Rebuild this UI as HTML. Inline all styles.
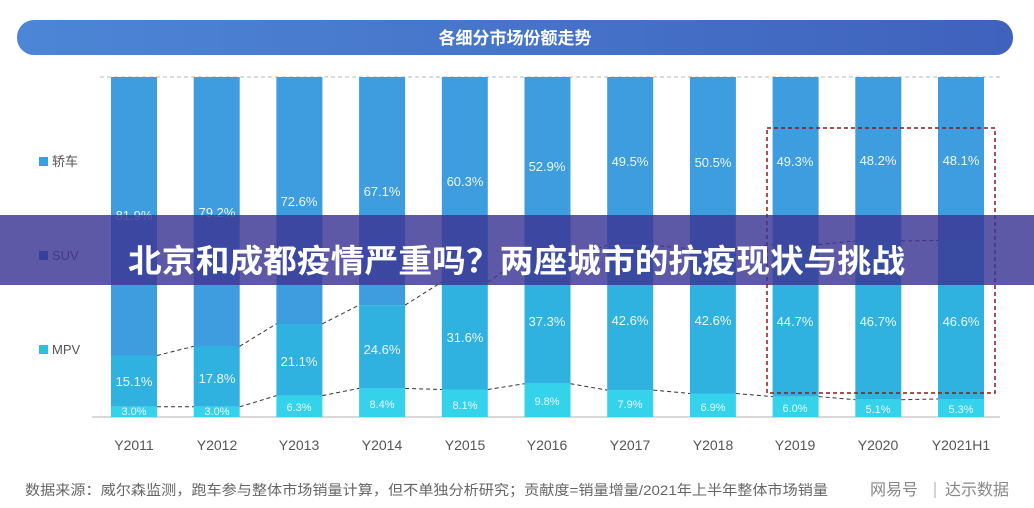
<!DOCTYPE html>
<html><head><meta charset="utf-8"><style>
body{margin:0;width:1034px;height:508px;overflow:hidden;background:#fff;font-family:"Liberation Sans","Noto Sans CJK SC",sans-serif}
</style></head><body>
<svg width="1034" height="508" xmlns="http://www.w3.org/2000/svg" style="position:absolute;left:0;top:0">
<defs><linearGradient id="hg" x1="0" x2="1"><stop offset="0" stop-color="#4d86d6"/><stop offset="1" stop-color="#3f62bd"/></linearGradient></defs>
<rect x="17" y="20" width="996" height="35" rx="17" fill="url(#hg)"/>
<text x="515" y="44" fill="#fff" font-size="17" font-weight="bold" text-anchor="middle" font-family="Liberation Sans,Noto Sans CJK SC,sans-serif">各细分市场份额走势</text>
<line x1="100" y1="77" x2="1000" y2="77" stroke="#bbb" stroke-dasharray="4,3"/>
<line x1="92" y1="417" x2="1000" y2="417" stroke="#ccc" stroke-width="1.5"/>
<g fill="#3d9ddf">
<rect x="111" y="77" width="46" height="279"/><rect x="193.7" y="77" width="46" height="270"/><rect x="276.4" y="77" width="46" height="247"/><rect x="359.1" y="77" width="46" height="228"/><rect x="441.8" y="77" width="46" height="205"/><rect x="524.5" y="77" width="46" height="180"/><rect x="607.2" y="77" width="46" height="168"/><rect x="689.9" y="77" width="46" height="172"/><rect x="772.6" y="77" width="46" height="168"/><rect x="855.3" y="77" width="46" height="164"/><rect x="938" y="77" width="46" height="164"/>
</g>
<g fill="#30b2e0">
<rect x="111" y="355.5" width="46" height="51.3"/><rect x="193.7" y="346.3" width="46" height="60.5"/><rect x="276.4" y="323.8" width="46" height="71.8"/><rect x="359.1" y="305.1" width="46" height="83.3"/><rect x="441.8" y="282" width="46" height="107.5"/><rect x="524.5" y="256.9" width="46" height="126.8"/><rect x="607.2" y="245.3" width="46" height="144.8"/><rect x="689.9" y="248.7" width="46" height="144.8"/><rect x="772.6" y="244.6" width="46" height="152"/><rect x="855.3" y="240.9" width="46" height="158.8"/><rect x="938" y="240.5" width="46" height="158.5"/>
</g>
<g fill="#35d2ec">
<rect x="111" y="406.8" width="46" height="10.2"/><rect x="193.7" y="406.8" width="46" height="10.2"/><rect x="276.4" y="395.6" width="46" height="21.4"/><rect x="359.1" y="388.4" width="46" height="28.6"/><rect x="441.8" y="389.5" width="46" height="27.5"/><rect x="524.5" y="383.7" width="46" height="33.3"/><rect x="607.2" y="390.1" width="46" height="26.9"/><rect x="689.9" y="393.5" width="46" height="23.5"/><rect x="772.6" y="396.6" width="46" height="20.4"/><rect x="855.3" y="399.7" width="46" height="17.3"/><rect x="938" y="399" width="46" height="18"/>
</g>
<g stroke="#333" stroke-dasharray="4,3" fill="none">
<polyline points="157,355.5 193.7,346.3"/><polyline points="239.7,346.3 276.4,323.8"/><polyline points="322.4,323.8 359.1,305.1"/><polyline points="405.1,305.1 441.8,282"/><polyline points="487.8,282 524.5,256.9"/><polyline points="570.5,256.9 607.2,245.3"/><polyline points="653.2,245.3 689.9,248.7"/><polyline points="735.9,248.7 772.6,244.6"/><polyline points="818.6,244.6 855.3,240.9"/><polyline points="901.3,240.9 938,240.5"/>
<polyline points="157,406.8 193.7,406.8"/><polyline points="239.7,406.8 276.4,395.6"/><polyline points="322.4,395.6 359.1,388.4"/><polyline points="405.1,388.4 441.8,389.5"/><polyline points="487.8,389.5 524.5,383.7"/><polyline points="570.5,383.7 607.2,390.1"/><polyline points="653.2,390.1 689.9,393.5"/><polyline points="735.9,393.5 772.6,396.6"/><polyline points="818.6,396.6 855.3,399.7"/><polyline points="901.3,399.7 938,399"/>
</g>
<rect x="767" y="128" width="228" height="265" fill="none" stroke="#8b1a1a" stroke-width="1.5" stroke-dasharray="4,3"/>
<g fill="#eaf8ff" font-size="13" text-anchor="middle">
<text x="134" y="220">81.9%</text><text x="217" y="217">79.2%</text><text x="299" y="206">72.6%</text><text x="382" y="196">67.1%</text><text x="465" y="186">60.3%</text><text x="547" y="171">52.9%</text><text x="630" y="166">49.5%</text><text x="713" y="167">50.5%</text><text x="795" y="166">49.3%</text><text x="878" y="165">48.2%</text><text x="961" y="165">48.1%</text>
<text x="134" y="386">15.1%</text><text x="217" y="383">17.8%</text><text x="299" y="366">21.1%</text><text x="382" y="354">24.6%</text><text x="465" y="342">31.6%</text><text x="547" y="326">37.3%</text><text x="630" y="325">42.6%</text><text x="713" y="325">42.6%</text><text x="795" y="326">44.7%</text><text x="878" y="326">46.7%</text><text x="961" y="326">46.6%</text>
<g font-size="11"><text x="134" y="415">3.0%</text><text x="217" y="415">3.0%</text><text x="299" y="411">6.3%</text><text x="382" y="408">8.4%</text><text x="465" y="409">8.1%</text><text x="547" y="405">9.8%</text><text x="630" y="408">7.9%</text><text x="713" y="411">6.9%</text><text x="795" y="412">6.0%</text><text x="878" y="413">5.1%</text><text x="961" y="413">5.3%</text></g>
</g>
<g fill="#555" font-size="14" text-anchor="middle">
<text x="134" y="450">Y2011</text><text x="217" y="450">Y2012</text><text x="299" y="450">Y2013</text><text x="382" y="450">Y2014</text><text x="465" y="450">Y2015</text><text x="547" y="450">Y2016</text><text x="630" y="450">Y2017</text><text x="713" y="450">Y2018</text><text x="795" y="450">Y2019</text><text x="878" y="450">Y2020</text><text x="961" y="450">Y2021H1</text>
</g>
<rect x="39" y="157" width="9" height="9" fill="#3d9ddf"/><text x="52" y="166" font-size="13" fill="#555">轿车</text>
<rect x="39" y="251" width="9" height="9" fill="#2a78c8"/><text x="52" y="260" font-size="13" fill="#555">SUV</text>
<rect x="39" y="345" width="9" height="9" fill="#30bfd8"/><text x="52" y="354" font-size="13" fill="#555">MPV</text>
<text x="25" y="495" font-size="14" fill="#666" textLength="803" lengthAdjust="spacingAndGlyphs">数据来源：威尔森监测，跑车参与整体市场销量计算，但不单独分析研究；贡献度=销量增量/2021年上半年整体市场销量</text>
<text x="870" y="495" font-size="16" fill="#888">网易号</text><line x1="935" y1="482" x2="935" y2="498" stroke="#aaa"/><text x="945" y="495" font-size="16" fill="#888">达示数据</text>
<rect x="0" y="215" width="1034" height="70" fill="#3a3592" opacity="0.82"/>
<text x="128" y="272" font-size="32" font-weight="bold" fill="#fff" textLength="777" lengthAdjust="spacingAndGlyphs">北京和成都疫情严重吗？两座城市的抗疫现状与挑战</text>
</svg>
</body></html>
